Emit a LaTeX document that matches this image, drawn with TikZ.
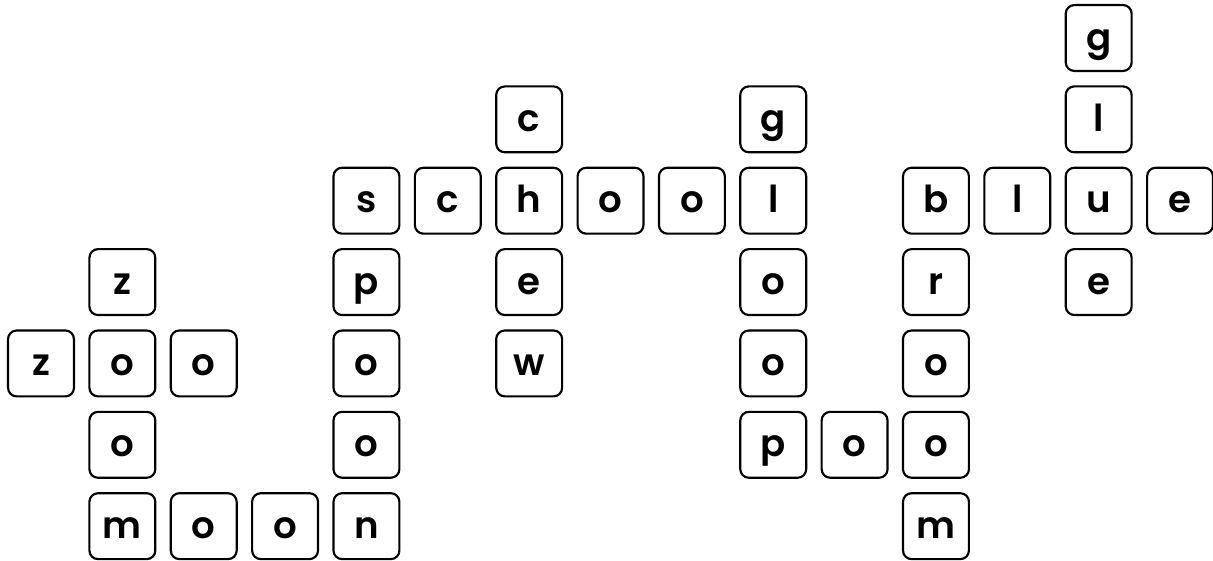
\documentclass[tikz,border=0pt]{standalone}
\usepackage{fontspec}
\setmainfont{Poppins}[UprightFont=* SemiBold]
\begin{document}
\begin{tikzpicture}[thick]

	\tikzset{feld/.style={draw,rounded corners=3pt,minimum size=0.81cm,inner sep=0pt,
			line width=0.75pt,text height=8.4pt,text depth=0pt,
			font=\fontsize{13}{15}\selectfont}}

	\useasboundingbox (-0.504,0.467) rectangle (14.405,-6.416);

	% Felder (Spalte/Zeile/Buchstabe)
	\foreach \x/\y/\bst in {13/0/g,
		6/1/c, 9/1/g, 13/1/l,
		4/2/s, 5/2/c, 6/2/h, 7/2/o, 8/2/o, 9/2/l, 11/2/b, 12/2/l, 13/2/u, 14/2/e,
		1/3/z, 4/3/p, 6/3/e, 9/3/o, 11/3/r, 13/3/e,
		0/4/z, 1/4/o, 2/4/o, 4/4/o, 6/4/w, 9/4/o, 11/4/o,
		1/5/o, 4/5/o, 9/5/p, 10/5/o, 11/5/o,
		1/6/m, 2/6/o, 3/6/o, 4/6/n, 11/6/m}
	\node[feld] (F-\x-\y) at (\x,-\y) {\bst};

\end{tikzpicture}
\end{document}
